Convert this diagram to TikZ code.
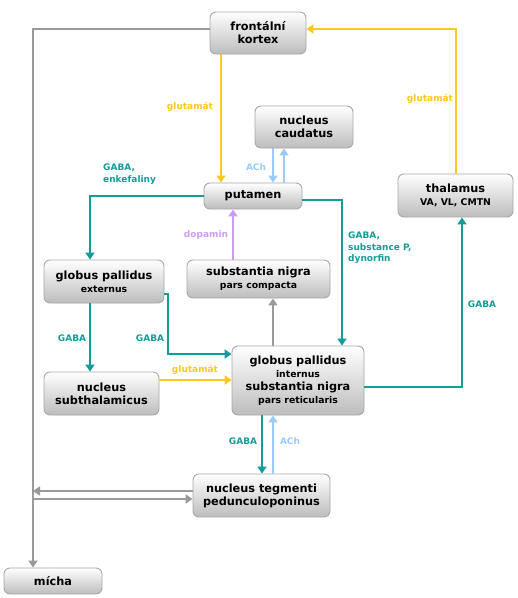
\documentclass[tikz,border=0pt]{standalone}
\usepackage{fontspec}
\setmainfont{DejaVu Sans}
\usetikzlibrary{arrows.meta,calc}
\definecolor{cyel}{HTML}{FFC81E}
\definecolor{cteal}{HTML}{129C9A}
\definecolor{cblue}{HTML}{9CCBFA}
\definecolor{cpurp}{HTML}{CC9CF5}
\definecolor{cgray}{HTML}{9A9A9A}
\definecolor{cbord}{HTML}{A8A8A8}
\begin{document}
\begin{tikzpicture}[x=1pt,y=-1pt,
  box/.style={draw=cbord, line width=0.9pt, rounded corners=6pt, top color=white, bottom color=black!26,
    align=center, inner sep=0pt, font=\bfseries\fontsize{11.3}{13}\selectfont},
  conn/.style={line width=2.9pt, -{Triangle[length=7pt,width=9pt]}},
  gr/.style={conn, draw=cgray},
  yel/.style={conn, draw=cyel},
  teal/.style={conn, draw=cteal},
  blu/.style={conn, draw=cblue},
  pur/.style={conn, draw=cpurp},
  lab/.style={font=\bfseries\fontsize{9}{11.5}\selectfont, inner sep=0pt},
]
\useasboundingbox (0,0) rectangle (518,598);
\newcommand{\subt}[1]{{\fontsize{9.3}{11}\selectfont #1}}

% nodes
\node[box, minimum width=96, minimum height=42] (fk) at (258,33) {frontální\\kortex};
\node[box, minimum width=98, minimum height=42] (nc) at (304,127) {nucleus\\caudatus};
\node[box, minimum width=98, minimum height=26] (put) at (253,196) {putamen};
\node[box, minimum width=115, minimum height=43] (th) at (455.5,195.5) {thalamus\\\subt{VA, VL, CMTN}};
\node[box, minimum width=120, minimum height=43] (gpe) at (104,281.5) {globus pallidus\\\subt{externus}};
\node[box, minimum width=143, minimum height=38] (snc) at (258.5,279) {substantia nigra\\\subt{pars compacta}};
\node[box, minimum width=115, minimum height=43] (stn) at (101.5,393.5) {nucleus\\subthalamicus};
\node[box, minimum width=132, minimum height=69] (gpi) at (298,380.5) {globus pallidus\\\subt{internus}\\substantia nigra\\\subt{pars reticularis}};
\node[box, minimum width=137, minimum height=43] (ppn) at (261.5,495.5) {nucleus tegmenti\\pedunculoponinus};
\node[box, minimum width=98, minimum height=26] (mi) at (53,581) {mícha};

% helper coordinates
\coordinate (gl) at (33,29);
\coordinate (x221) at (221,0);
\coordinate (x456) at (456,0);
\coordinate (x273) at (273,0);
\coordinate (x284) at (284,0);
\coordinate (x90) at (90,0);
\coordinate (x342) at (342,0);
\coordinate (x462) at (462,0);
\coordinate (x262) at (262,0);
\coordinate (x233) at (233,0);
\coordinate (k1) at (168,354);

% gray
\draw[gr] ([yshift=4pt]fk.west) -- (gl) -- (gl |- mi.north);
\draw[gr] ([yshift=4.5pt]ppn.west) -- ([yshift=4.5pt]ppn.west -| gl);
\draw[gr] ([yshift=-3.5pt]ppn.west -| gl) -- ([yshift=-3.5pt]ppn.west);
\draw[gr] (gpi.north -| x273) -- (snc.south -| x273);

% yellow
\draw[yel] (fk.south -| x221) -- (put.north -| x221);
\draw[yel] (th.north -| x456) |- ([yshift=4pt]fk.east);
\draw[yel] ([yshift=13.5pt]stn.east) -- ([yshift=13.5pt]stn.east -| gpi.west);

% blue
\draw[blu] (nc.south -| x273) -- (put.north -| x273);
\draw[blu] (put.north -| x284) -- (nc.south -| x284);
\draw[blu] (ppn.north -| x273) -- (gpi.south -| x273);

% purple
\draw[pur] (snc.north -| x233) -- (put.south -| x233);

% teal
\draw[teal] (put.west) -| (gpe.north -| x90);
\draw[teal] ([yshift=-4pt]put.east) -| (gpi.north -| x342);
\draw[teal] (gpe.south -| x90) -- (stn.north -| x90);
\draw[teal] ([yshift=-12.5pt]gpe.east) -| (k1) -- (k1 -| gpi.west);
\draw[teal] ([yshift=-6.5pt]gpi.east) -| (th.south -| x462);
\draw[teal] (gpi.south -| x262) -- (ppn.north -| x262);

% labels
\node[lab, text=cyel] (l1) at (190,107) {glutamát};
\node[lab, text=cyel] (l2) at (430,99) {glutamát};
\node[lab, text=cblue] (l3) at (256,167) {ACh};
\node[lab, text=cteal, anchor=west, align=left] (l4) at (103,174) {GABA,\\enkefaliny};
\node[lab, text=cpurp] (l5) at (206,235) {dopamin};
\node[lab, text=cteal, anchor=west, align=left] (l6) at (348,248) {GABA,\\substance P,\\dynorfin};
\node[lab, text=cteal] (l7) at (72,338) {GABA};
\node[lab, text=cteal] (l8) at (150,338) {GABA};
\node[lab, text=cyel] (l9) at (195,370) {glutamát};
\node[lab, text=cteal] (l10) at (482,304) {GABA};
\node[lab, text=cteal] (l11) at (243,441) {GABA};
\node[lab, text=cblue] (l12) at (290,441) {ACh};
\end{tikzpicture}
\end{document}
